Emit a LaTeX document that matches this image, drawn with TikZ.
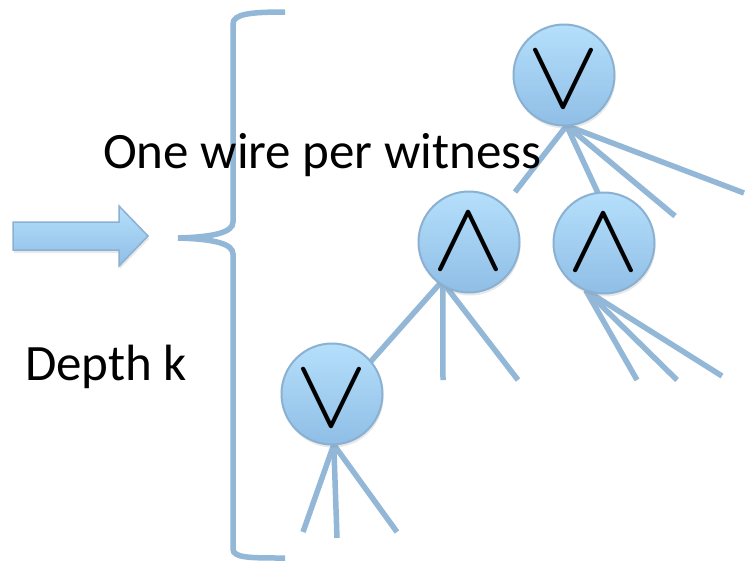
\documentclass[tikz,border=0pt]{standalone}
\usepackage{fontspec}
\setmainfont{Carlito}
\usetikzlibrary{shadows}
\definecolor{wire}{HTML}{93B7D7}
\definecolor{fillTop}{HTML}{B5DFFB}
\definecolor{fillBot}{HTML}{8FBEE6}
\definecolor{rim}{HTML}{8AB0D2}
\newcommand{\orsymbol}{\raisebox{-10pt}[45pt][0pt]{\resizebox{72pt}{55pt}{$\vee$}}}
\newcommand{\andsymbol}{\raisebox{-1pt}{\resizebox{72pt}{55pt}{$\wedge$}}}
\begin{document}
\begin{tikzpicture}[x=1pt,y=-1pt,
  gate/.style={circle, minimum size=101pt, inner sep=0pt, draw=rim, line width=2pt,
    top color=fillTop, bottom color=fillBot,
    drop shadow={opacity=0.18, shadow xshift=1pt, shadow yshift=-3pt}},
  ghost/.style={circle, minimum size=101pt, inner sep=0pt},
  wireline/.style={draw=wire, line width=5.5pt},
  bracestyle/.style={draw=wire, line width=5.5pt},
  label/.style={font=\fontsize{51}{60}\selectfont, anchor=base west, inner sep=0pt, text=black},
]
\fill[white] (0,0) rectangle (753,566);
\useasboundingbox (0,0) rectangle (753,566);

% block arrow
\path[draw=rim, line width=1.5pt, top color=fillTop, bottom color=fillBot,
  drop shadow={opacity=0.18, shadow xshift=1pt, shadow yshift=-3pt}]
  (13,222) -- (119,222) -- (119,206) -- (148,236) -- (119,266) -- (119,250) -- (13,250) -- cycle;

% brace
\draw[bracestyle] (285,12) .. controls (250,12) and (233,14) .. (233,24) -- (233,222)
  .. controls (233,232) and (215,237) .. (178,238)
  .. controls (215,239) and (233,244) .. (233,254) -- (233,549)
  .. controls (233,558) and (250,558) .. (285,558);

% wire end points
\coordinate (a1) at (515,192);
\coordinate (a3) at (675,216);
\coordinate (a4) at (744,193);
\coordinate (b2) at (443,380);
\coordinate (b3) at (518,380);
\coordinate (c1) at (637,380);
\coordinate (c2) at (677,380);
\coordinate (c3) at (722,376);
\coordinate (d1) at (303,532);
\coordinate (d2) at (337,538);
\coordinate (d3) at (397,532);

\path (564,75) coordinate (pA) (469,242) coordinate (pL) (604,243) coordinate (pR) (332,394) coordinate (pO);

% invisible outlines used to attach wires (drawn before gates)
\path (pA) node[ghost] (ghA) {}
      (pL) node[ghost] (ghL) {}
      (pR) node[ghost] (ghR) {}
      (pO) node[ghost] (ghO) {};
\draw[wireline] (ghA.-87) -- (a1);
\draw[wireline] (ghA.-87) -- (ghR.97);
\draw[wireline] (ghA.-87) -- (a3);
\draw[wireline] (ghA.-87) -- (a4);
\draw[wireline] (ghL.-125) -- (ghO.40);
\draw[wireline] (ghL.-121) -- (b2);
\draw[wireline] (ghL.-116) -- (b3);
\draw[wireline] (ghR.-111) -- (c1);
\draw[wireline] (ghR.-111) -- (c2);
\draw[wireline] (ghR.-111) -- (c3);
\draw[wireline] (ghO.-88) -- (d1);
\draw[wireline] (ghO.-88) -- (d2);
\draw[wireline] (ghO.-88) -- (d3);

\node[gate] (orA) at (pA) {\orsymbol};
\node[gate] (andL) at (pL) {\andsymbol};
\node[gate] (andR) at (pR) {\andsymbol};
\node[gate] (orL) at (pO) {\orsymbol};

% texts
\node[label] (t1) at (103,168) {One wire per witness};
\node[label] (t2) at (25,380) {Depth k};
\end{tikzpicture}
\end{document}
